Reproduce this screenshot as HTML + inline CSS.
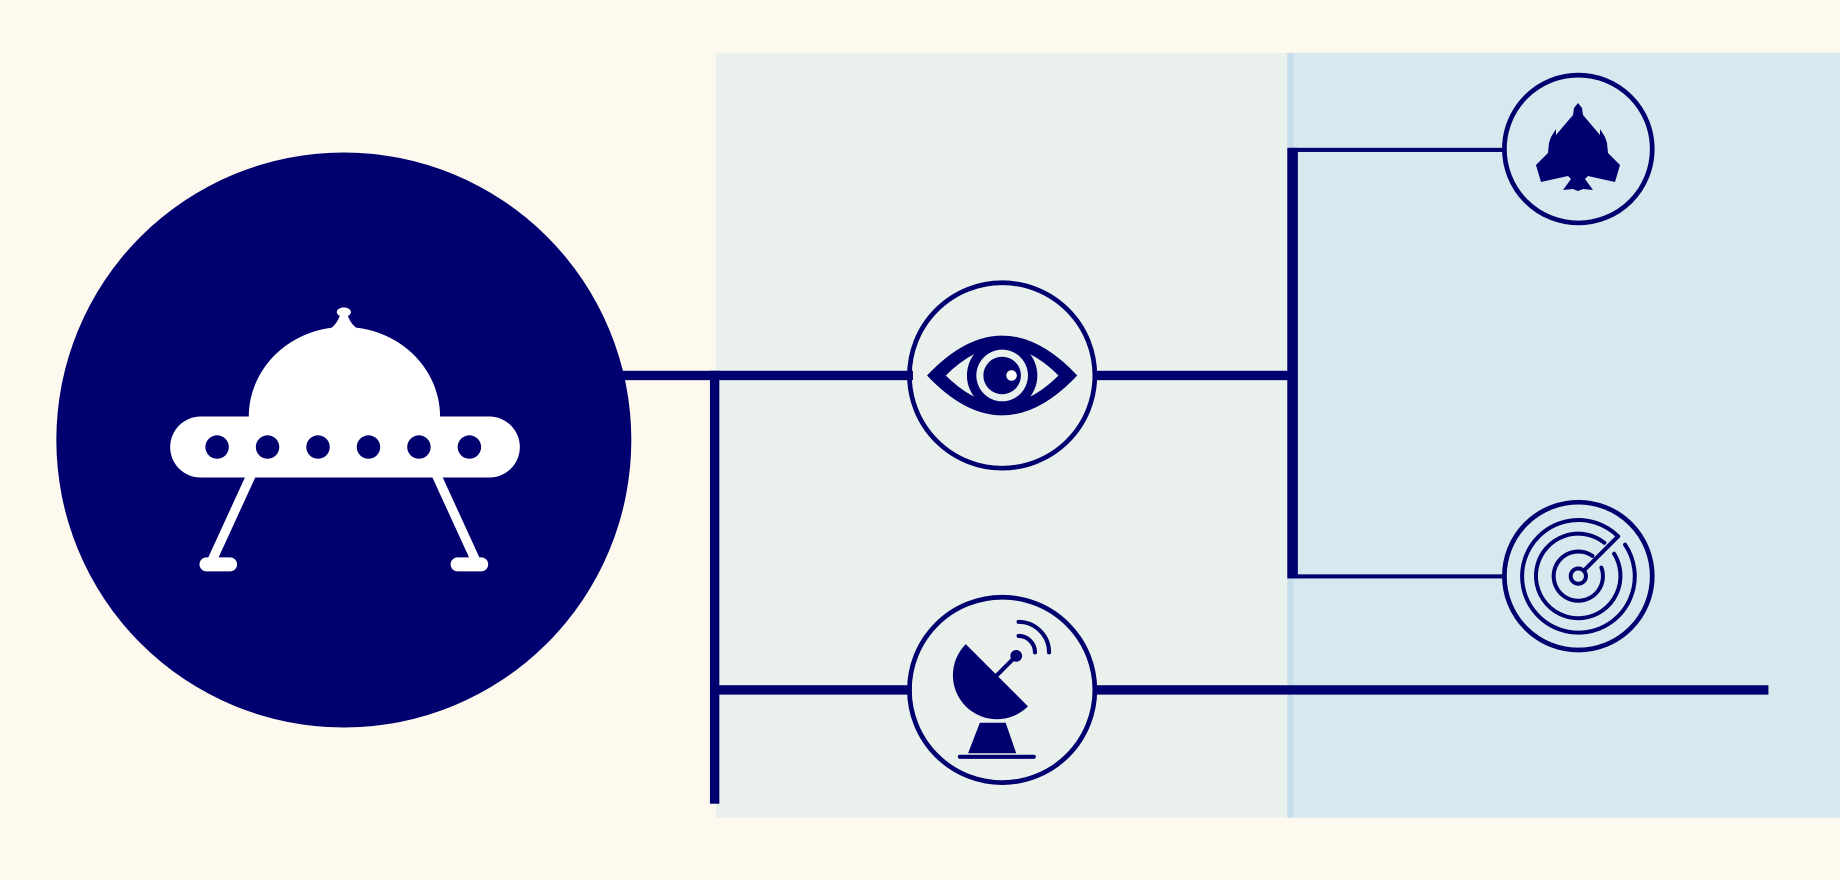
<!DOCTYPE html>
<html><head><meta charset="utf-8"><style>
html,body{margin:0;padding:0;background:#fdf9ef;}
svg{display:block;}
</style></head><body>
<svg width="1840" height="880" viewBox="0 0 1568 750" preserveAspectRatio="none" xmlns="http://www.w3.org/2000/svg">
<rect x="0" y="0" width="1568" height="750" fill="#fdf9ef"/>
<rect x="610" y="45" width="490" height="652" fill="#eaf0ec"/>
<rect x="1100" y="45" width="468" height="652" fill="#d7e8ee"/>
<rect x="1097" y="45" width="5" height="652" fill="#c6ddea"/>

<!-- connectors -->
<g fill="#00006e">
<rect x="520" y="316" width="258" height="8"/>
<rect x="605" y="316" width="8" height="369"/>
<rect x="932" y="316" width="172" height="8"/>
<rect x="1097" y="126" width="9" height="367"/>
<rect x="1100" y="126" width="182" height="3.5"/>
<rect x="1100" y="489.5" width="182" height="3.5"/>
<rect x="609" y="584" width="168" height="8"/>
<rect x="932" y="584" width="575" height="8"/>
</g>

<!-- big circle -->
<circle cx="293" cy="375" r="245" fill="#00006e"/>
<!-- UFO -->
<g fill="#fff">
<ellipse cx="293" cy="266" rx="6" ry="4"/>
<path d="M290,268 L296,268 Q299,277 306,281 L280,281 Q287,277 290,268 Z"/>
<path d="M212,355 A81,76 0 0 1 375,355 Z"/>
<rect x="145" y="355" width="298" height="52" rx="26"/>
<line x1="214" y1="405" x2="181" y2="477" stroke="#fff" stroke-width="8"/>
<line x1="372" y1="405" x2="405" y2="477" stroke="#fff" stroke-width="8"/>
<rect x="170" y="475" width="32" height="12" rx="6"/>
<rect x="384" y="475" width="32" height="12" rx="6"/>
</g>
<g fill="#00006e">
<circle cx="185" cy="381" r="10"/><circle cx="228" cy="381" r="10"/><circle cx="271" cy="381" r="10"/>
<circle cx="314" cy="381" r="10"/><circle cx="357" cy="381" r="10"/><circle cx="400" cy="381" r="10"/>
</g>

<!-- node circles -->
<g fill="none" stroke="#00006e" stroke-width="4">
<circle cx="854" cy="320" r="79"/>
<circle cx="854" cy="588" r="79"/>
<circle cx="1345" cy="127" r="63"/>
<circle cx="1345" cy="491" r="63"/>
</g>

<!-- eye -->
<path d="M790,320 Q854,252 918,320 Q854,388 790,320 Z" fill="#00006e"/>
<path d="M806,320 Q854,272 902,320 Q854,368 806,320 Z" fill="#eaf0ec"/>
<circle cx="854" cy="320" r="30" fill="#00006e"/>
<circle cx="854" cy="320" r="22" fill="#eaf0ec"/>
<circle cx="854" cy="320" r="16" fill="#00006e"/>
<circle cx="862" cy="320" r="4.5" fill="#fff"/>

<!-- dish -->
<g fill="#00006e">
<path d="M823,549 L876,602 A37,37 0 0 1 823,549 Z"/>
<circle cx="866" cy="559" r="5"/>
<polygon points="835,616 857,616 866,642 825,642"/>
</g>
<g fill="none" stroke="#00006e" stroke-width="3.5" stroke-linecap="round">
<line x1="850" y1="575" x2="865" y2="560"/>
<line x1="818" y1="645" x2="881" y2="645"/>
<path d="M868,542 A14,14 0 0 1 882,556"/>
<path d="M868,530 A26,26 0 0 1 894,556"/>
</g>

<!-- plane (real coords) -->
<g transform="scale(0.85217)">
<polygon fill="#00006e" points="1578,103 1582,108 1583,115 1600,135 1600,129 1605,137 1607,143 1608,153 1620,165 1615,182 1588,176 1585,179 1593,190 1583,189 1578,191 1573,189 1563,190 1571,179 1568,176 1541,182 1536,165 1548,153 1549,143 1551,137 1556,129 1556,135 1573,115 1574,108"/>
</g>

<!-- radar -->
<g fill="none" stroke="#00006e" stroke-linecap="round" stroke-width="3.4">
<circle cx="1345" cy="491" r="6.5"/>
<path d="M1364.7,483.8 A21,21 0 1 1 1357,473.8"/>
<path d="M1375.5,471.9 A36,36 0 1 1 1367.2,462.6"/>
<path d="M1384.8,464.2 A48,48 0 1 1 1378.9,457.1"/>
<line x1="1350" y1="486" x2="1378.9" y2="457.1"/>
</g>
</svg>
</body></html>
